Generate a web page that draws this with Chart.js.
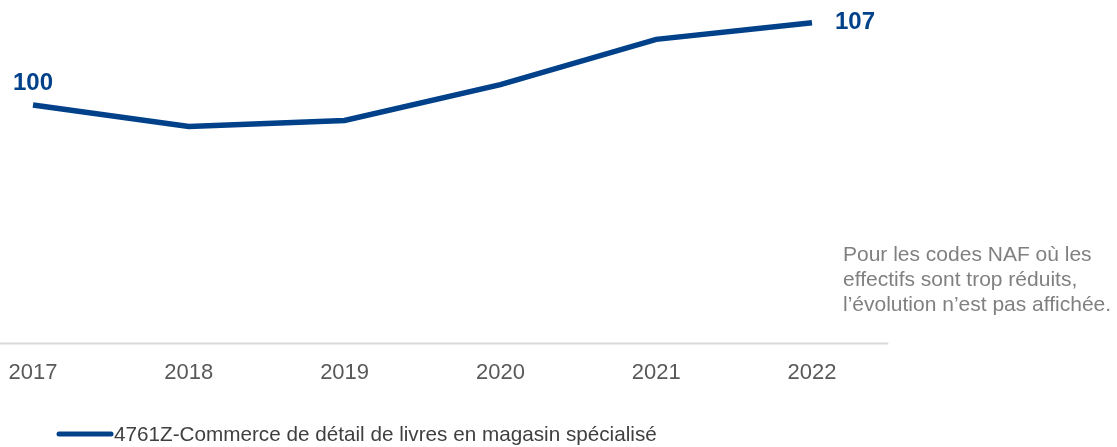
<!DOCTYPE html>
<html>
<head>
<meta charset="utf-8">
<script src="https://cdn.jsdelivr.net/npm/chart.js@4.4.0/dist/chart.umd.min.js"></script>
<style>
  html, body { margin: 0; padding: 0; background: #fff; }
  #wrap { width: 1117px; height: 447px; position: relative; }
</style>
</head>
<body>
<div id="wrap"><canvas id="myChart"></canvas></div>
<script>
// Données
const annees = ['2017', '2018', '2019', '2020', '2021', '2022'];
const indice = [100, 98.2, 98.7, 101.7, 105.5, 106.9];
const libelleSerie = '4761Z-Commerce de détail de livres en magasin spécialisé';
const etiquettes = ['100', '', '', '', '', '107'];
const note = ['Pour les codes NAF où les', 'effectifs sont trop réduits,', 'l\u2019évolution n\u2019est pas affichée.'];

const bleu = '#00418a';
const police = '"Liberation Sans", Arial, sans-serif';

// Ligne d'axe, étiquettes de valeur, légende et note
const habillage = {
    id: 'habillage',
    afterDatasetsDraw(chart) {
        const ctx = chart.ctx;
        const area = chart.chartArea;
        const x = chart.scales.x;
        const y = chart.scales.y;
        const pas = x.getPixelForValue(1) - x.getPixelForValue(0);

        // axe horizontal
        ctx.save();
        ctx.strokeStyle = '#d9d9d9';
        ctx.lineWidth = 2;
        const yAxe = y.getPixelForValue(y.min);
        ctx.beginPath();
        ctx.moveTo(0, yAxe);
        ctx.lineTo(area.right + pas * 0.49, yAxe);
        ctx.stroke();

        // étiquettes de valeur
        const meta = chart.getDatasetMeta(0);
        ctx.fillStyle = bleu;
        ctx.font = 'bold 24px ' + police;
        ctx.textBaseline = 'middle';
        etiquettes.forEach((t, i) => {
            if (!t) return;
            const p = meta.data[i];
            if (i === 0) {
                ctx.textAlign = 'center';
                ctx.fillText(t, p.x, p.y - 22);
            } else {
                ctx.textAlign = 'left';
                ctx.fillText(t, p.x + 23, p.y);
            }
        });

        // légende
        ctx.strokeStyle = bleu;
        ctx.lineWidth = 5;
        ctx.lineCap = 'round';
        ctx.beginPath();
        ctx.moveTo(59, 434);
        ctx.lineTo(111, 434);
        ctx.stroke();
        ctx.fillStyle = '#404040';
        ctx.font = '20.7px ' + police;
        ctx.textAlign = 'left';
        ctx.fillText(chart.data.datasets[0].label, 114, 435);

        // note
        ctx.fillStyle = '#808080';
        ctx.font = '21px ' + police;
        note.forEach((l, i) => ctx.fillText(l, 843, 255 + i * 25));
        ctx.restore();
    }
};

const ctx = document.getElementById('myChart').getContext('2d');
const myChart = new Chart(ctx, {
    type: 'line',
    data: {
        labels: annees,
        datasets: [{
            label: libelleSerie,
            data: indice,
            borderColor: bleu,
            borderWidth: 5.5,
            pointRadius: 0,
            tension: 0,
            fill: false
        }]
    },
    options: {
        responsive: true,
        maintainAspectRatio: false,
        animation: false,
        layout: {
            padding: { left: 33, right: 305, top: 0, bottom: 45 }
        },
        plugins: {
            legend: { display: false },
            tooltip: { enabled: false }
        },
        scales: {
            x: {
                offset: false,
                grid: { display: false, drawTicks: false },
                border: { display: false },
                ticks: {
                    color: '#595959',
                    padding: 16,
                    font: { family: police, size: 22 },
                    maxRotation: 0
                },
                afterFit(scale) {
                    scale.paddingLeft = 0;
                    scale.paddingRight = 0;
                }
            },
            y: {
                display: false,
                min: 80,
                max: 108.8
            }
        }
    },
    plugins: [habillage]
});
</script>
</body>
</html>
